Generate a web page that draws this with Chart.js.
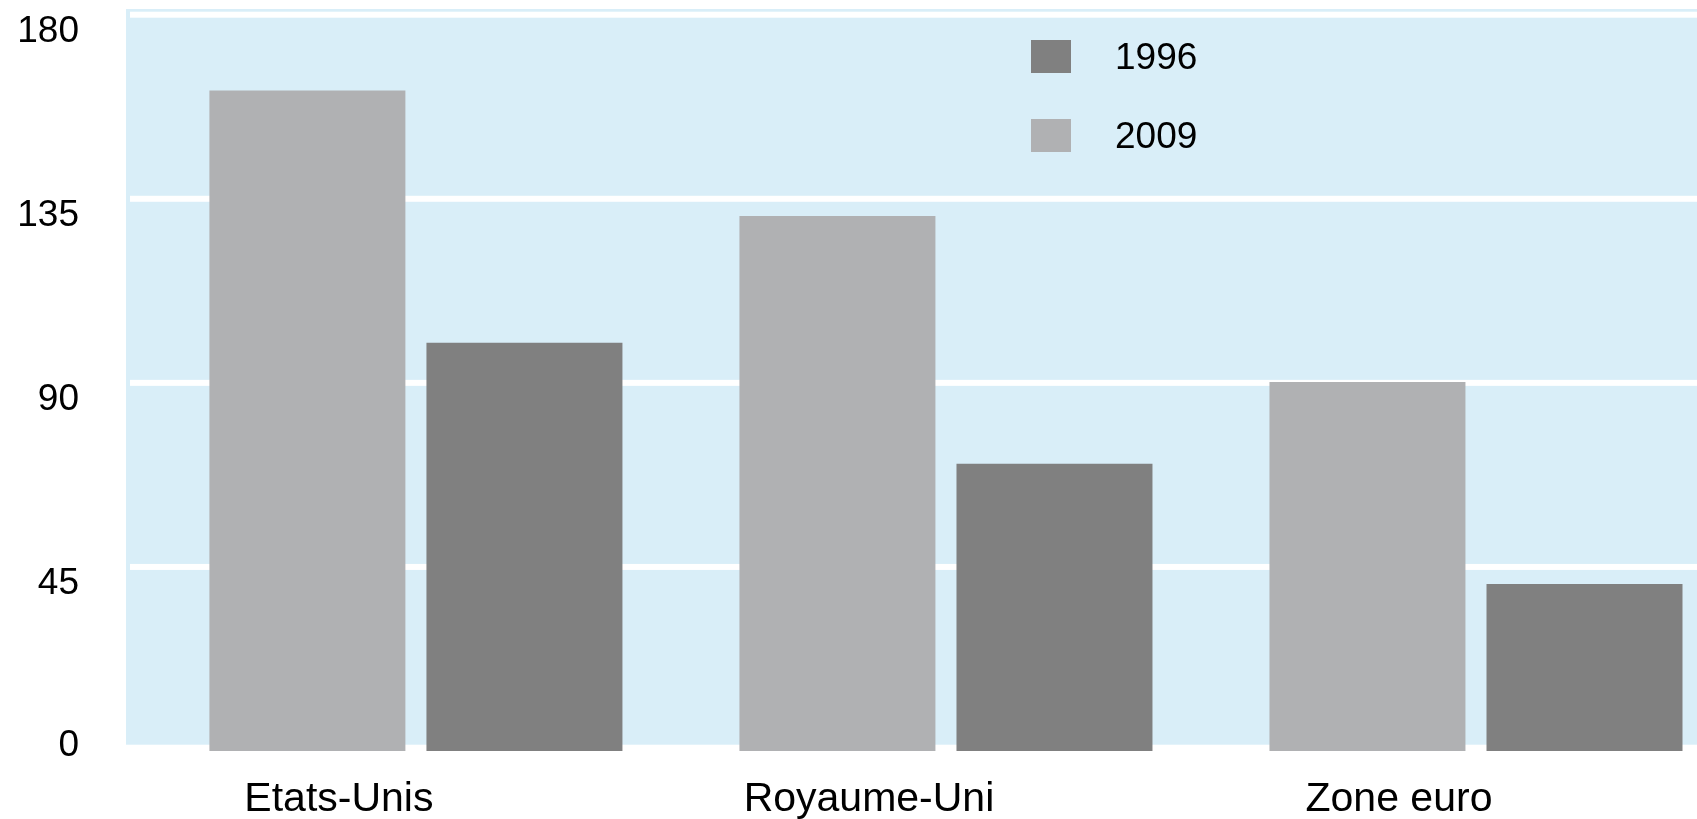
<!DOCTYPE html>
<html>
<head>
<meta charset="utf-8">
<script src="https://cdn.jsdelivr.net/npm/chart.js@4.4.1/dist/chart.umd.min.js"></script>
<style>
  html, body { margin: 0; padding: 0; background: #ffffff; overflow: hidden; }
  #wrap { width: 1697px; height: 819px; position: relative; }
  canvas { display: block; }
</style>
</head>
<body>
<div id="wrap"><canvas id="chart" width="1697" height="819"></canvas></div>
<script>
// ---- Data ----
const categories = ['Etats-Unis', 'Royaume-Uni', 'Zone euro'];
const seriesLabels = ['2009', '1996'];
const values2009 = [161.5, 130.8, 90.2];
const values1996 = [99.8, 70.2, 40.8];
const yTickValues = [0, 45, 90, 135, 180];

// ---- Styles ----
const colors2009 = '#b0b1b3';
const colors1996 = '#808080';
const plotBg = '#d9eef8';
const FONT = '"Liberation Sans", Arial, sans-serif';

// points on the category index axis (index i -> category i)
const toPoints = vals => vals.map((v, i) => ({ x: i, y: v }));

const backgroundPlugin = {
  id: 'plotBackground',
  beforeDraw(chart) {
    const { ctx, chartArea } = chart;
    ctx.save();
    ctx.fillStyle = plotBg;
    const left = chartArea.left;
    const top = chartArea.top - 5.7;
    const bottom = chartArea.bottom - 6.3;
    ctx.fillRect(left, top, chart.width - left, bottom - top);
    ctx.restore();
  }
};

const gridPlugin = {
  id: 'whiteGrid',
  beforeDatasetsDraw(chart) {
    const { ctx, chartArea } = chart;
    const yScale = chart.scales.y;
    ctx.save();
    ctx.fillStyle = '#ffffff';
    const left = chartArea.left + 4;
    yScale.ticks.forEach(t => {
      if (t.value === 0) return;
      const y = yScale.getPixelForValue(t.value);
      ctx.fillRect(left, y - 3, chart.width - left, 6);
    });
    ctx.restore();
  }
};

const legendPlugin = {
  id: 'insideLegend',
  afterDraw(chart) {
    const { ctx } = chart;
    const ds = chart.data.datasets.slice().reverse();
    ctx.save();
    ctx.font = '37px ' + FONT;
    ctx.textBaseline = 'middle';
    ctx.textAlign = 'left';
    ds.forEach((d, i) => {
      const top = 40 + i * 79;
      ctx.fillStyle = d.backgroundColor;
      ctx.fillRect(1031, top, 40, 33);
      ctx.fillStyle = '#000000';
      ctx.fillText(d.label, 1115, top + 19);
    });
    ctx.restore();
  }
};

new Chart(document.getElementById('chart'), {
  type: 'bar',
  data: {
    datasets: [
      { label: seriesLabels[0], data: toPoints(values2009), backgroundColor: colors2009, borderWidth: 0,
        categoryPercentage: 0.819, barPercentage: 0.903 },
      { label: seriesLabels[1], data: toPoints(values1996), backgroundColor: colors1996, borderWidth: 0,
        categoryPercentage: 0.819, barPercentage: 0.903 }
    ]
  },
  options: {
    responsive: false,
    devicePixelRatio: 1,
    animation: false,
    layout: { padding: { top: 14.7, left: 0, right: 0, bottom: 0 } },
    plugins: { legend: { display: false }, tooltip: { enabled: false } },
    scales: {
      x: {
        type: 'linear',
        min: -0.547,
        max: 2.417,
        offset: false,
        afterBuildTicks(scale) {
          scale.ticks = categories.map((c, i) => ({ value: i }));
        },
        grid: { display: false, drawTicks: false },
        border: { display: false },
        ticks: {
          color: '#000000',
          font: { family: FONT, size: 41 },
          padding: 24,
          labelOffset: -77,
          maxRotation: 0,
          autoSkip: false,
          callback: (v) => categories[v]
        },
        afterFit(scale) {
          scale.height = 68;
          scale.paddingLeft = 0;
          scale.paddingRight = 0;
        }
      },
      y: {
        min: 0,
        max: 180,
        afterBuildTicks(scale) {
          scale.ticks = yTickValues.map(v => ({ value: v }));
        },
        grid: { display: false, drawTicks: false },
        border: { display: false },
        ticks: {
          color: '#000000',
          font: { family: FONT, size: 37 },
          padding: 47,
          labelOffset: 17,
          callback: (v) => (v === 0 ? [String(v), ''] : String(v))
        },
        afterFit(scale) {
          scale.width = 126;
          scale.paddingTop = 0;
          scale.paddingBottom = 0;
        }
      }
    }
  },
  plugins: [backgroundPlugin, gridPlugin, legendPlugin]
});
</script>
</body>
</html>
